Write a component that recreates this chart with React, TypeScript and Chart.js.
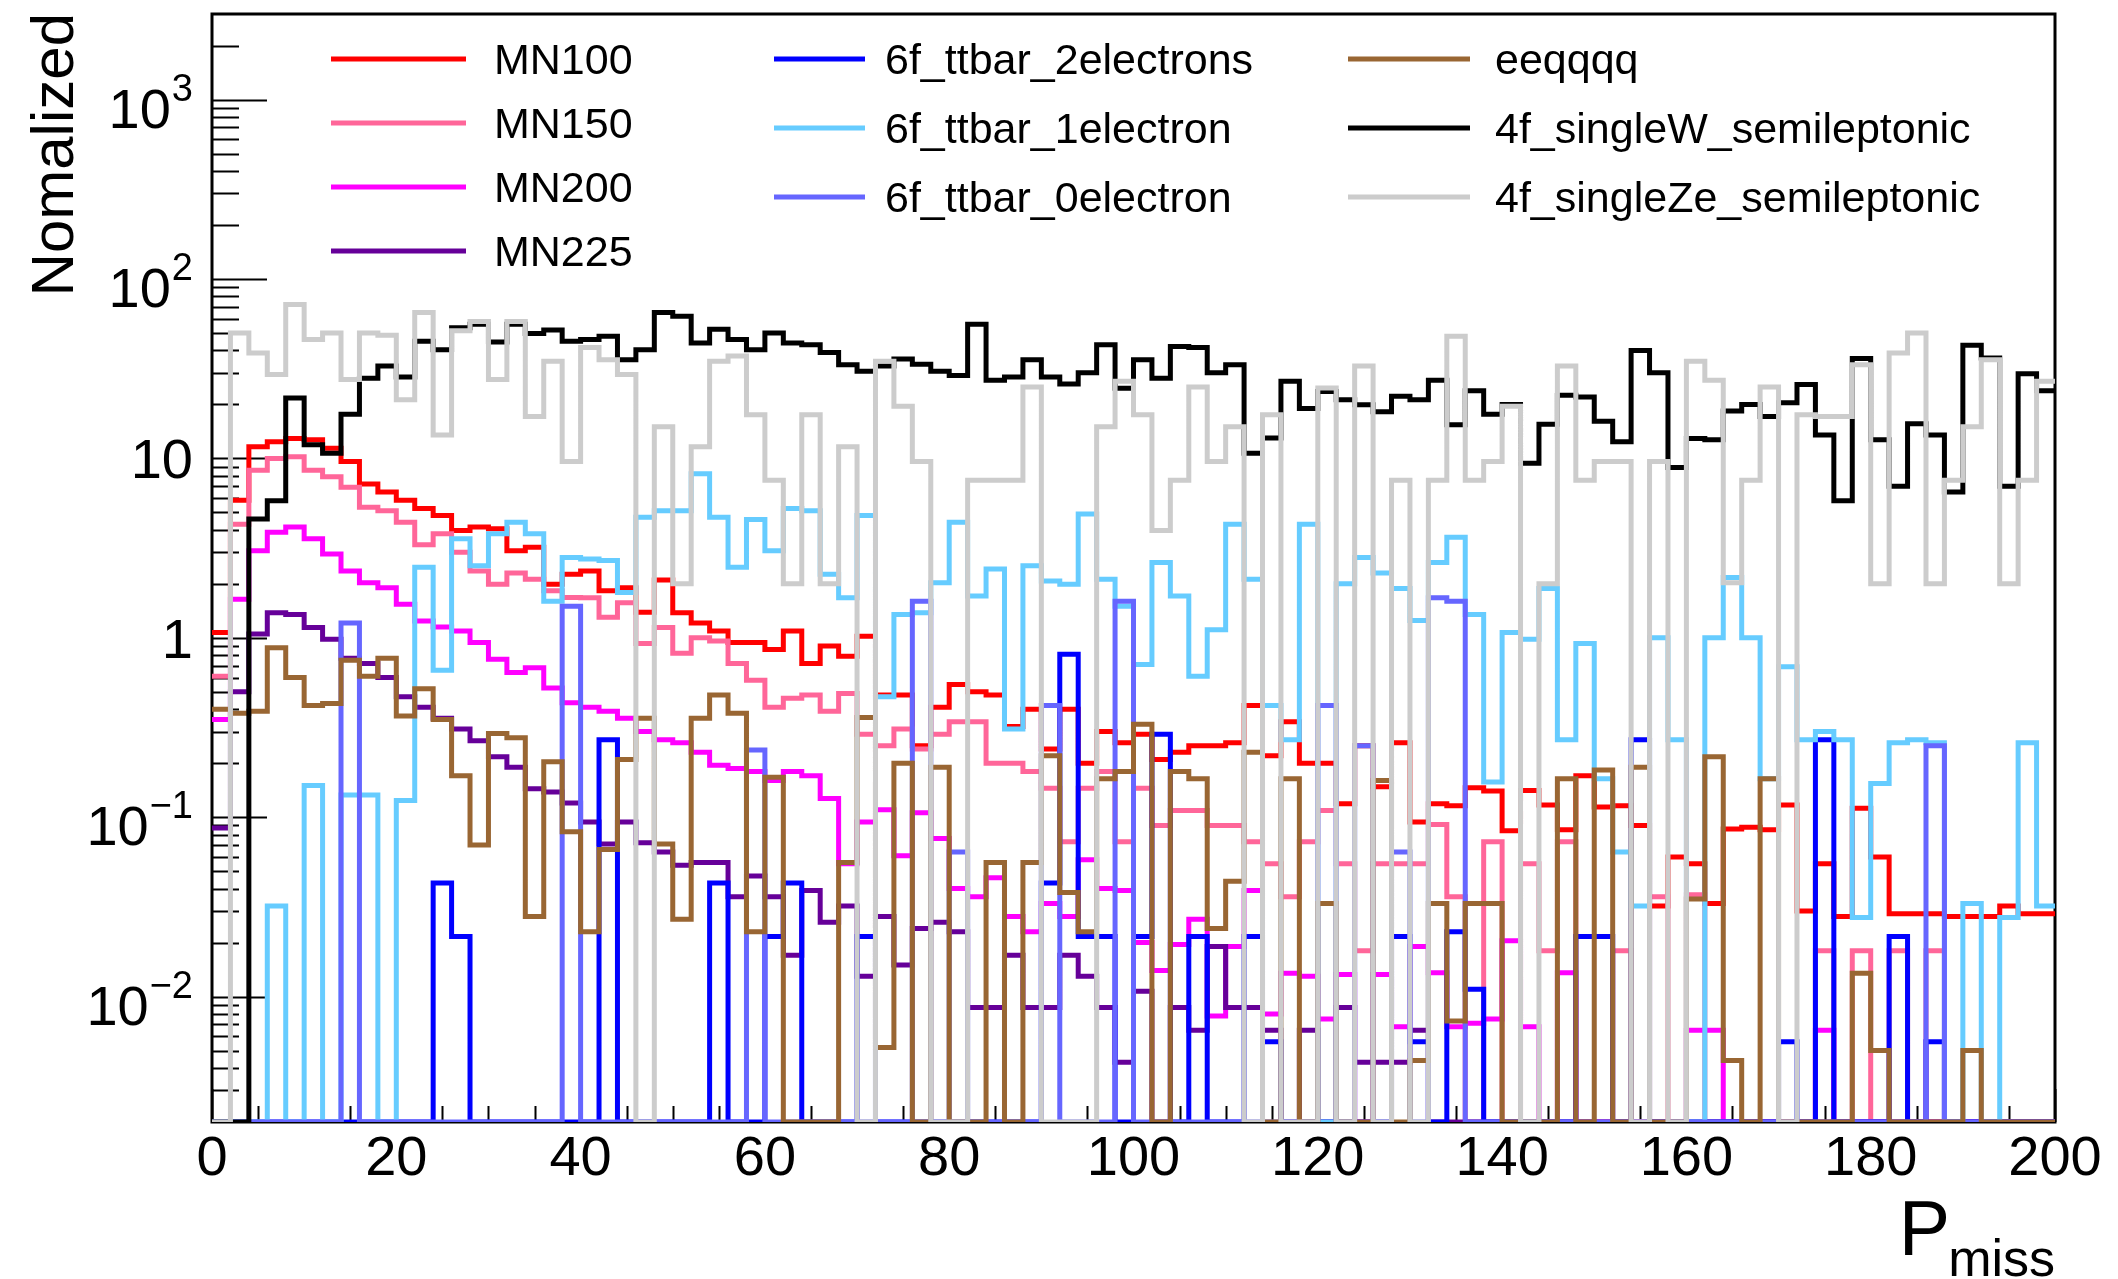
import React, { useEffect, useRef } from "react";
import { Chart, registerables } from "chart.js";

Chart.register(...registerables);

// ---------------- data ----------------
const X_MIN = 0;
const X_MAX = 200;
const BIN_WIDTH = 2;
const Y_MIN = 0.002;
const Y_MAX = 3000;

const X_TICK_LABELS = ["0", "20", "40", "60", "80", "100", "120", "140", "160", "180", "200"];
const Y_TICK_EXPONENTS = [-2, -1, 0, 1, 2, 3];

const MN100 = [
  1.07, 5.84, 11.6, 12.4, 12.9, 12.7, 11.4, 9.6, 7.2, 6.5,
  5.84, 5.25, 4.8, 3.96, 4.14, 4.05, 3.06, 3.2, 1.99, 2.26,
  2.36, 1.83, 1.9, 1.39, 2.1, 1.38, 1.21, 1.09, 0.94, 0.94,
  0.86, 1.09, 0.72, 0.9, 0.79, 1.02, 0.48, 0.48, 0.25, 0.41,
  0.55, 0.5, 0.48, 0.32, 0.4, 0.24, 0.4, 0.2, 0.3, 0.26,
  0.29, 0.21, 0.23, 0.25, 0.25, 0.26, 0.42, 0.22, 0.34, 0.2,
  0.2, 0.119, 0.25, 0.148, 0.26, 0.094, 0.119, 0.116, 0.146, 0.14,
  0.084, 0.141, 0.117, 0.085, 0.17, 0.114, 0.116, 0.09, 0.032, 0.06,
  0.055, 0.033, 0.086, 0.088, 0.085, 0.117, 0.03, 0.055, 0.028, 0.112,
  0.06, 0.029, 0.029, 0.029, 0.028, 0.028, 0.028, 0.032, 0.029, 0.029,
];

const MN150 = [
  0.61, 4.3, 8.6, 10.0, 10.2, 8.6, 7.9, 6.9, 5.35, 5.1,
  4.4, 3.3, 3.8, 3.0, 2.36, 1.99, 2.3, 2.12, 1.83, 1.68,
  1.67, 1.3, 1.57, 0.93, 1.14, 0.82, 1.0, 0.96, 0.72, 0.58,
  0.41, 0.46, 0.48, 0.39, 0.49, 0.29, 0.25, 0.31, 0.24, 0.29,
  0.34, 0.34, 0.2, 0.2, 0.18, 0.145, 0.073, 0.145, 0.18, 0.073,
  0.145, 0.09, 0.109, 0.109, 0.09, 0.09, 0.073, 0.055, 0.036, 0.073,
  0.109, 0.055, 0.018, 0.055, 0.055, 0.055, 0.091, 0.036, 0, 0.073,
  0, 0.055, 0.018, 0.073, 0, 0, 0.018, 0, 0.036, 0,
  0.037, 0, 0, 0, 0, 0, 0, 0.018, 0, 0.018,
  0, 0.018, 0, 0.018, 0, 0, 0, 0, 0, 0,
];

const MN200 = [
  0.35, 1.64, 3.06, 3.87, 4.14, 3.56, 2.93, 2.36, 2.03, 1.9,
  1.54, 1.24, 1.15, 1.09, 0.94, 0.76, 0.64, 0.68, 0.525, 0.435,
  0.41, 0.39, 0.356, 0.3, 0.27, 0.26, 0.23, 0.195, 0.187, 0.18,
  0.16, 0.18, 0.17, 0.127, 0.055, 0.094, 0.11, 0.061, 0.106, 0.076,
  0.04, 0.036, 0.046, 0.028, 0.023, 0.033, 0.028, 0.058, 0.04, 0.039,
  0.02, 0.014, 0.0195, 0.027, 0.0078, 0.019, 0.039, 0.008, 0.0135, 0.013,
  0.0075, 0.0133, 0, 0.0133, 0.0068, 0.019, 0.0136, 0.0068, 0.0071, 0.0075,
  0.0205, 0.0068, 0, 0.0136, 0, 0, 0, 0, 0, 0,
  0.0065, 0.0065, 0, 0, 0, 0, 0, 0.0065, 0, 0,
  0, 0, 0, 0, 0, 0, 0, 0, 0, 0,
];

const MN225 = [
  0.087, 0.5, 1.05, 1.38, 1.35, 1.14, 0.98, 0.77, 0.72, 0.6,
  0.47, 0.41, 0.356, 0.31, 0.267, 0.217, 0.19, 0.144, 0.138, 0.12,
  0.094, 0.071, 0.094, 0.072, 0.064, 0.054, 0.056, 0.056, 0.036, 0.047,
  0.036, 0.017, 0.039, 0.026, 0.032, 0.013, 0.028, 0.015, 0.024, 0.026,
  0.023, 0.0087, 0.0087, 0.017, 0.0087, 0.0087, 0.017, 0.013, 0.0087, 0.0043,
  0.0107, 0, 0.0087, 0.0065, 0.019, 0.0087, 0.0087, 0.0065, 0, 0.0065,
  0, 0.0087, 0.0043, 0.0043, 0.0043, 0.0065, 0, 0, 0, 0,
  0, 0, 0, 0, 0, 0, 0, 0, 0, 0,
  0, 0, 0, 0, 0, 0, 0, 0, 0, 0,
  0, 0, 0, 0, 0, 0, 0, 0, 0, 0,
];

const TTBAR_2E = [
  0, 0, 0, 0, 0, 0, 0, 0, 0, 0,
  0, 0, 0.043, 0.0216, 0, 0, 0, 0, 0, 0,
  0, 0.27, 0, 0, 0, 0, 0, 0.043, 0, 0,
  0.0216, 0.043, 0, 0, 0, 0.0216, 0, 0, 0, 0,
  0, 0, 0, 0, 0, 0.043, 0.81, 0.0216, 0.0216, 0,
  0.0216, 0.29, 0, 0.0216, 0, 0, 0.0216, 0.0056, 0, 0,
  0, 0, 0, 0, 0.0216, 0.0056, 0, 0.023, 0.011, 0,
  0, 0, 0, 0, 0.0216, 0.0216, 0, 0.27, 0, 0,
  0, 0, 0, 0, 0, 0.0056, 0, 0.27, 0, 0,
  0, 0.0216, 0, 0.0056, 0, 0, 0, 0, 0, 0,
];

const TTBAR_1E = [
  0, 0, 0, 0.032, 0, 0.15, 0, 0.133, 0.133, 0,
  0.124, 2.47, 0.66, 3.56, 2.52, 3.8, 4.4, 3.8, 1.6, 2.8,
  2.75, 2.7, 1.79, 4.7, 5.1, 5.1, 8.2, 4.7, 2.47, 4.56,
  3.06, 5.25, 5.1, 2.26, 1.67, 4.8, 0.47, 1.35, 1.38, 2.03,
  4.4, 1.71, 2.42, 0.31, 2.52, 2.07, 1.99, 4.9, 2.12, 1.5,
  0.71, 2.63, 1.71, 0.61, 1.11, 4.3, 2.12, 0.42, 0.27, 4.3,
  0, 2.0, 2.8, 2.3, 1.88, 1.25, 2.63, 3.63, 1.35, 0.157,
  1.07, 0.98, 1.88, 0.27, 0.93, 0.164, 0.064, 0.032, 1.0, 0.27,
  0, 1.0, 2.17, 1.0, 0.164, 0.69, 0.27, 0.3, 0.27, 0.0276,
  0.154, 0.26, 0.27, 0.26, 0, 0.033, 0, 0.0276, 0.26, 0.032,
];

const TTBAR_0E = [
  0, 0, 0, 0, 0, 0, 0, 1.21, 0, 0,
  0, 0, 0, 0, 0, 0, 0, 0, 0, 1.5,
  0, 0, 0, 0, 0, 0, 0, 0, 0, 0.237,
  0, 0, 0, 0, 0, 0, 0, 0, 1.6, 0,
  0.064, 0, 0, 0, 0, 0.42, 0, 0, 0, 1.6,
  0, 0, 0, 0, 0, 0, 0, 0, 0, 0,
  0.42, 0, 0.25, 0, 0.064, 0, 1.67, 1.6, 0, 0,
  0, 0, 0, 0, 0, 0, 0, 0, 0, 0,
  0, 0, 0, 0, 0, 0, 0, 0, 0, 0,
  0, 0, 0, 0.25, 0, 0, 0, 0, 0, 0,
];

const EEQQQQ = [
  0.4, 0.38, 0.39, 0.88, 0.6, 0.42, 0.43, 0.75, 0.61, 0.77,
  0.367, 0.52, 0.35, 0.17, 0.07, 0.293, 0.277, 0.028, 0.204, 0.083,
  0.023, 0.066, 0.21, 0.356, 0.071, 0.027, 0.356, 0.48, 0.38, 0.023,
  0.167, 0, 0, 0, 0.056, 0.36, 0.0052, 0.2, 0, 0.19,
  0, 0, 0.056, 0, 0.056, 0.22, 0.038, 0.023, 0.164, 0.18,
  0.33, 0, 0.18, 0.164, 0.024, 0.044, 0.23, 0, 0.164, 0,
  0.033, 0, 0, 0.16, 0, 0.0044, 0.033, 0.0073, 0.033, 0.033,
  0, 0, 0, 0.164, 0, 0.183, 0, 0.19, 0, 0,
  0.035, 0.217, 0.0044, 0, 0.164, 0, 0, 0, 0, 0.0135,
  0.005, 0, 0, 0, 0, 0.005, 0, 0, 0, 0,
];

const SINGLE_W = [
  0, 0, 4.6, 5.8, 21.7, 11.9, 10.7, 17.6, 28, 32.7,
  28.4, 45, 40.3, 53.5, 56, 44.5, 56, 49.7, 52, 45,
  46, 48, 35.5, 40.3, 65, 62, 44, 52.5, 46, 40.3,
  50, 44, 43, 38.9, 33.3, 30.6, 32.7, 35.8, 33.5, 30.6,
  29, 56, 27.3, 28.4, 35.5, 28.4, 26, 30, 43, 24.6,
  35.5, 28, 42, 41.5, 30, 33.3, 10.7, 13, 26.9, 19,
  23.6, 21.2, 19.9, 18.2, 22.2, 21.2, 27.3, 15.4, 23.8, 17.6,
  20, 9.4, 15.5, 22.5, 22, 16.1, 12.4, 40, 30, 8.9,
  12.9, 12.7, 18.4, 20, 17.1, 20.4, 25.8, 13.5, 5.8, 36,
  12.7, 7, 15.6, 13.5, 6.5, 42.7, 36.3, 7, 29.6, 23.8,
];

const SINGLE_ZE = [
  0, 50, 38.7, 29.4, 72, 46, 50, 27.5, 50, 48.6,
  21.2, 65, 13.5, 51.5, 58, 27.5, 58, 17.1, 34.8, 9.6,
  41.5, 35.5, 29.4, 0, 15, 2.0, 11.6, 34.8, 37.2, 17.5,
  7.55, 2.0, 17.5, 2.0, 11.6, 0, 34.8, 19.5, 9.6, 0,
  0, 7.55, 7.55, 7.55, 25, 0, 0, 0, 15, 26.9,
  17.5, 3.96, 7.55, 25, 9.6, 15, 0, 17.5, 0, 0,
  24.7, 0, 32.7, 0, 7.55, 0, 7.55, 48, 7.55, 9.6,
  19.5, 0, 2.0, 32.7, 7.55, 9.6, 9.6, 0, 9.6, 0,
  34.8, 27.3, 2.03, 7.55, 25, 0, 17.5, 17.1, 17.1, 33.3,
  2.0, 38.7, 50, 2.0, 7.55, 15, 35.5, 2.0, 7.55, 26.9,
];

const SERIES_NAMES = [
  "MN100", "MN150", "MN200", "MN225",
  "6f_ttbar_2electrons", "6f_ttbar_1electron", "6f_ttbar_0electron",
  "eeqqqq", "4f_singleW_semileptonic", "4f_singleZe_semileptonic",
];
const SERIES_VALUES = [MN100, MN150, MN200, MN225, TTBAR_2E, TTBAR_1E, TTBAR_0E, EEQQQQ, SINGLE_W, SINGLE_ZE];
const SERIES_COLORS = [
  "#ff0000", "#ff6699", "#ff00ff", "#660099",
  "#0000ff", "#66ccff", "#6666ff",
  "#996633", "#000000", "#cccccc",
];

// legend layout: columns of series indices
const LEGEND_COLUMNS = [
  { items: [0, 1, 2, 3], lineX0: 331, lineX1: 466, textX: 494, y0: 59, dy: 64 },
  { items: [4, 5, 6], lineX0: 774, lineX1: 865, textX: 885, y0: 59, dy: 69 },
  { items: [7, 8, 9], lineX0: 1348, lineX1: 1470, textX: 1495, y0: 59, dy: 69 },
];

// ---------------- helpers ----------------
const FONT = '"Liberation Sans", Arial, Helvetica, sans-serif';
const LINE_W = 5;

function toSteps(values: number[]) {
  const pts = values.map((v, i) => ({ x: X_MIN + i * BIN_WIDTH, y: v > 0 ? v : Y_MIN }));
  const last = values[values.length - 1];
  pts.push({ x: X_MIN + values.length * BIN_WIDTH, y: last > 0 ? last : Y_MIN });
  return pts;
}

const rootAxesPlugin = {
  id: "rootAxes",
  beforeDatasetsDraw(chart: any) {
    const { ctx, chartArea: a, scales } = chart;
    const xs = scales.x;
    const ys = scales.y;
    ctx.save();
    ctx.strokeStyle = "#000";
    ctx.lineWidth = 2;
    ctx.beginPath();
    for (let e = -3; e <= 3; e++) {
      for (let m = 1; m <= 9; m++) {
        const v = m * Math.pow(10, e);
        if (v < Y_MIN * 1.0001 || v > Y_MAX * 0.9999) continue;
        const py = Math.round(ys.getPixelForValue(v)) + 0.5;
        const len = m === 1 ? 55 : 27;
        ctx.moveTo(a.left, py);
        ctx.lineTo(a.left + len, py);
      }
    }
    for (let t = X_MIN; t <= X_MAX; t += 5) {
      const px = Math.round(xs.getPixelForValue(t)) + 0.5;
      const len = t % 20 === 0 ? 33 : 16;
      ctx.moveTo(px, a.bottom);
      ctx.lineTo(px, a.bottom - len);
    }
    ctx.stroke();
    ctx.lineWidth = 3;
    ctx.strokeRect(a.left, a.top, a.right - a.left, a.bottom - a.top);
    ctx.restore();
  },
  afterDatasetsDraw(chart: any) {
    const { ctx, chartArea: a, scales } = chart;
    const xs = scales.x;
    const ys = scales.y;
    ctx.save();
    ctx.fillStyle = "#000";
    ctx.textBaseline = "alphabetic";

    // x tick labels
    ctx.font = `56px ${FONT}`;
    ctx.textAlign = "center";
    X_TICK_LABELS.forEach((lab) => {
      const px = xs.getPixelForValue(Number(lab));
      ctx.fillText(lab, px, a.bottom + 53);
    });

    // y tick labels
    const rightX = a.left - 19;
    Y_TICK_EXPONENTS.forEach((ex) => {
      const py = ys.getPixelForValue(Math.pow(10, ex));
      ctx.textAlign = "right";
      if (ex === 0 || ex === 1) {
        ctx.font = `56px ${FONT}`;
        ctx.fillText(ex === 0 ? "1" : "10", rightX, py + 20);
      } else {
        const sup = ex < 0 ? "\u2212" + Math.abs(ex) : String(ex);
        ctx.font = `38px ${FONT}`;
        const w = ctx.measureText(sup).width;
        ctx.fillText(sup, rightX, py + 1);
        ctx.font = `56px ${FONT}`;
        ctx.fillText("10", rightX - w - 1, py + 28);
      }
    });

    // y title
    ctx.save();
    ctx.translate(73, 13);
    ctx.rotate(-Math.PI / 2);
    ctx.font = `60px ${FONT}`;
    ctx.textAlign = "right";
    ctx.fillText("Nomalized", 0, 0);
    ctx.restore();

    // x title P_miss
    ctx.textAlign = "right";
    ctx.font = `52px ${FONT}`;
    const wm = ctx.measureText("miss").width;
    ctx.fillText("miss", a.right, 1276);
    ctx.font = `77px ${FONT}`;
    ctx.fillText("P", a.right - wm + 2, 1255);

    // legend
    ctx.textAlign = "left";
    ctx.font = `43px ${FONT}`;
    LEGEND_COLUMNS.forEach((col) => {
      col.items.forEach((si, r) => {
        const cy = col.y0 + r * col.dy;
        ctx.strokeStyle = SERIES_COLORS[si];
        ctx.lineWidth = LINE_W;
        ctx.beginPath();
        ctx.moveTo(col.lineX0, cy);
        ctx.lineTo(col.lineX1, cy);
        ctx.stroke();
        ctx.fillStyle = "#000";
        ctx.fillText(SERIES_NAMES[si], col.textX, cy + 15);
      });
    });
    ctx.restore();
  },
};

export default function App() {
  const ref = useRef<HTMLCanvasElement | null>(null);

  useEffect(() => {
    if (!ref.current) return;
    const n = SERIES_VALUES.length;
    const chart = new Chart(ref.current, {
      type: "line",
      data: {
        datasets: SERIES_VALUES.map((vals, i) => ({
          label: SERIES_NAMES[i],
          data: toSteps(vals),
          borderColor: SERIES_COLORS[i],
          backgroundColor: SERIES_COLORS[i],
          borderWidth: LINE_W,
          pointRadius: 0,
          pointHoverRadius: 0,
          stepped: "before" as const,
          fill: false,
          tension: 0,
          order: n - 1 - i,
        })),
      },
      options: {
        animation: false,
        responsive: false,
        maintainAspectRatio: false,
        devicePixelRatio: 1,
        events: [],
        layout: { padding: { left: 212, right: 63, top: 14, bottom: 157 } },
        scales: {
          x: { type: "linear", min: X_MIN, max: X_MAX, display: false },
          y: { type: "logarithmic", min: Y_MIN, max: Y_MAX, display: false },
        },
        plugins: {
          legend: { display: false },
          tooltip: { enabled: false },
          title: { display: false },
        },
      },
      plugins: [rootAxesPlugin],
    } as any);
    return () => chart.destroy();
  }, []);

  return (
    <div style={{ position: "absolute", left: 0, top: 0, width: 2118, height: 1279, background: "#fff" }}>
      <canvas ref={ref} width={2118} height={1279} style={{ display: "block", width: 2118, height: 1279 }} />
    </div>
  );
}
